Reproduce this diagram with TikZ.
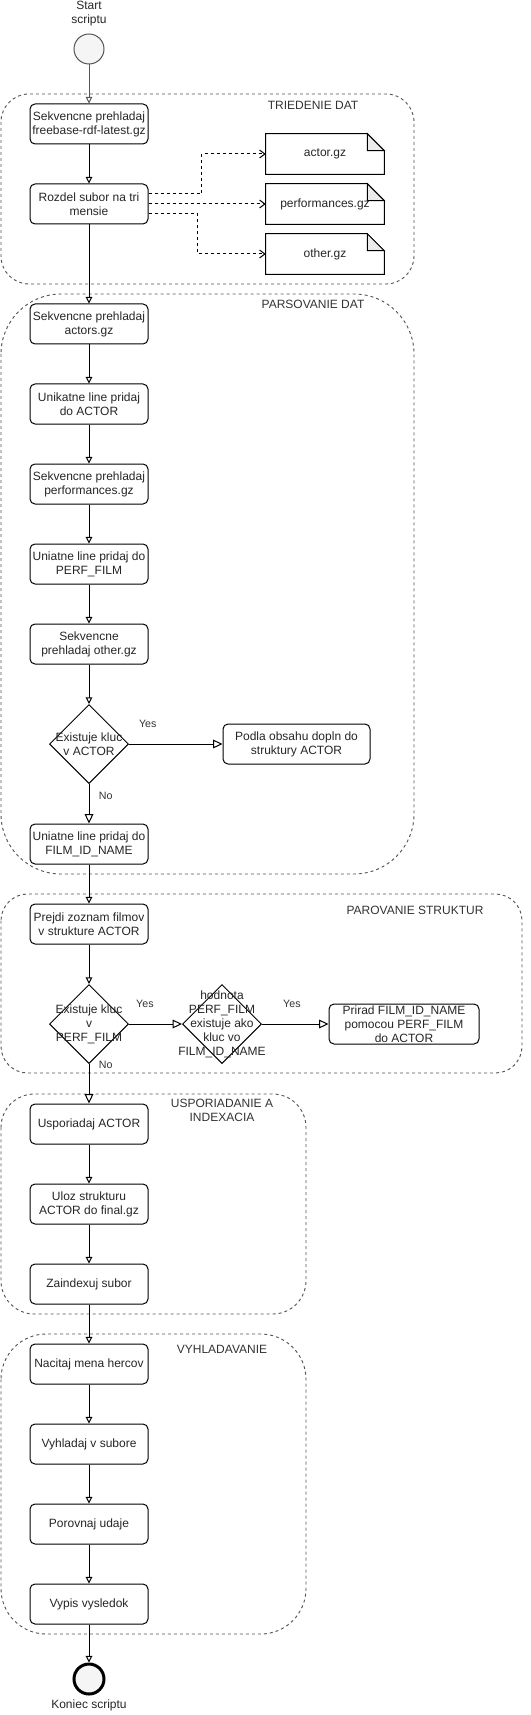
\documentclass[tikz,border=0pt]{standalone}
\usepackage{fontspec}
\setmainfont{Liberation Sans}
\usepackage{tikz}
\usetikzlibrary{shapes.geometric,arrows.meta,calc,positioning,backgrounds}
\definecolor{sedy}{HTML}{555555}
\definecolor{svetly}{HTML}{F5F5F5}
\definecolor{ohyb}{HTML}{EBEBEB}
\tikzset{
  txt/.style={font=\fontsize{9}{10.5}\selectfont,align=center,text=black!85},
  krok/.style={txt,rectangle,rounded corners=3.75pt,draw,fill=white,line width=0.75pt,minimum width=88.5pt,minimum height=30pt,inner sep=1pt},
  subor/.style={txt,rectangle,minimum width=88.5pt,minimum height=30pt,inner sep=1pt},
  rozhod/.style={diamond,draw,fill=white,line width=0.75pt,minimum width=59.25pt,minimum height=59.25pt,inner sep=0pt},
  skupina/.style={draw=sedy,dash pattern=on 2.25pt off 2.25pt,line width=0.7pt},
  nazov/.style={font=\fontsize{9}{10.5}\selectfont,align=center,text=black!80},
  popis/.style={font=\fontsize{8}{9.5}\selectfont,text=black!80,inner sep=1pt},
  sipka/.style={-{Triangle[open,length=5pt,width=5pt]},line width=0.75pt},
  sipkav/.style={-{Triangle[open,length=7pt,width=6.5pt]},line width=0.75pt},
  tok/.style={-{Straight Barb[length=4pt,width=6pt]},dash pattern=on 2.25pt off 2.25pt,line width=0.75pt}
}
\begin{document}
\begin{tikzpicture}[x=0.75pt,y=-0.75pt]
\useasboundingbox (0,0) rectangle (531,1715);
% skupiny
\draw[skupina,rounded corners=21pt] (1,94) rectangle (414,284);
\node[nazov] (tried) at (313,105) {TRIEDENIE DAT};
\draw[skupina,rounded corners=45pt] (1,294) rectangle (414,874);
\node[nazov] (pars) at (313,304) {PARSOVANIE DAT};
\draw[skupina,rounded corners=20pt] (1,894) rectangle (522,1073);
\node[nazov] (parov) at (415,910) {PAROVANIE STRUKTUR};
\draw[skupina,rounded corners=25pt] (1,1094) rectangle (306,1314);
\node[nazov] (uspor) at (222,1110) {USPORIADANIE A\\INDEXACIA};
\draw[skupina,rounded corners=34pt] (1,1334) rectangle (306,1634);
\node[nazov] (vyhl) at (222,1349) {VYHLADAVANIE};

% start
\node[circle,draw=sedy,fill=svetly,line width=0.75pt,minimum size=22.5pt,inner sep=0pt,
  label={[txt,label distance=2pt]above:Start\\scriptu}] (start) at (89,49) {};

% triedenie dat
\node[krok] (b1) at (89,124) {Sekvencne prehladaj\\freebase-rdf-latest.gz};
\node[krok] (b2) at (89,204) {Rozdel subor na tri\\mensie};
\node[subor] (actor) at (325,154) {actor.gz};
\node[subor] (perf) at (325,204) {performances.gz};
\node[subor] (other) at (325,254) {other.gz};
\begin{scope}[on background layer]
\foreach \d in {actor,perf,other}{
  \draw[line width=0.75pt,fill=white] (\d.north west) -- ($(\d.north east)+(-17,0)$)
    -- ($(\d.north east)+(0,17)$) -- (\d.south east) -- (\d.south west) -- cycle;
  \draw[line width=0.75pt,fill=ohyb] ($(\d.north east)+(-17,0)$) -- ($(\d.north east)+(-17,17)$)
    -- ($(\d.north east)+(0,17)$) -- cycle;
}
\end{scope}

% parsovanie dat
\node[krok] (b3) at (89,324) {Sekvencne prehladaj\\actors.gz};
\node[krok] (b4) at (89,404) {Unikatne line pridaj\\do ACTOR};
\node[krok] (b5) at (89,484) {Sekvencne prehladaj\\performances.gz};
\node[krok] (b6) at (89,564) {Uniatne line pridaj do\\PERF\_FILM};
\node[krok] (b7) at (89,644) {Sekvencne\\prehladaj other.gz};
\node[rozhod,label={[txt]center:Existuje kluc\\v ACTOR}] (d1) at (89,744) {};
\node[krok,minimum width=110.25pt] (podla) at (296.5,744) {Podla obsahu dopln do\\struktury ACTOR};
\node[krok] (b8) at (89,844) {Uniatne line pridaj do\\FILM\_ID\_NAME};

% parovanie struktur
\node[krok] (b9) at (89,924) {Prejdi zoznam filmov\\v strukture ACTOR};
\node[rozhod,label={[txt]center:Existuje kluc\\v\\PERF\_FILM}] (d2) at (89,1024) {};
\node[rozhod,label={[txt]center:hodnota\\PERF\_FILM\\existuje ako\\kluc vo\\FILM\_ID\_NAME}] (d3) at (222,1024) {};
\node[krok,minimum width=112.5pt] (prirad) at (404,1024) {Prirad FILM\_ID\_NAME\\pomocou PERF\_FILM\\do ACTOR};

% usporiadanie a indexacia
\node[krok] (b10) at (89,1124) {Usporiadaj ACTOR};
\node[krok] (b11) at (89,1204) {Uloz strukturu\\ACTOR do final.gz};
\node[krok] (b12) at (89,1284) {Zaindexuj subor};

% vyhladavanie
\node[krok] (b13) at (89,1364) {Nacitaj mena hercov};
\node[krok] (b14) at (89,1444) {Vyhladaj v subore};
\node[krok] (b15) at (89,1524) {Porovnaj udaje};
\node[krok] (b16) at (89,1604) {Vypis vysledok};

% koniec
\node[circle,draw,fill=svetly,line width=2.25pt,minimum size=22.5pt,inner sep=0pt,
  label={[txt]below:Koniec scriptu}] (koniec) at (89,1679) {};

% spojenia
\draw[sipka,draw=sedy] (start) -- (b1);
\draw[sipka] (b1) -- (b2);
\draw[tok] ($(b2.east)+(0,-10)$) -- ++(53,0) |- (actor);
\draw[tok] (b2) -- (perf);
\draw[tok] ($(b2.east)+(0,10)$) -- ++(49,0) |- (other);
\draw[sipka] (b2) -- (b3);
\draw[sipka] (b3) -- (b4);
\draw[sipka] (b4) -- (b5);
\draw[sipka] (b5) -- (b6);
\draw[sipka] (b6) -- (b7);
\draw[sipka] (b7) -- (d1);
\draw[sipkav] (d1) -- node[popis,pos=0.2,above=11pt] {Yes} (podla);
\draw[sipkav] (d1) -- node[popis,pos=0.3,right=6pt] {No} (b8);
\draw[sipka] (b8) -- (b9);
\draw[sipka] (b9) -- (d2);
\draw[sipkav] (d2) -- node[popis,pos=0.3,above=11pt] {Yes} (d3);
\draw[sipkav] (d3) -- node[popis,pos=0.45,above=11pt] {Yes} (prirad);
\draw[sipkav] (d2) -- node[popis,pos=0.02,right=6pt] {No} (b10);
\draw[sipka] (b10) -- (b11);
\draw[sipka] (b11) -- (b12);
\draw[sipka] (b12) -- (b13);
\draw[sipka] (b13) -- (b14);
\draw[sipka] (b14) -- (b15);
\draw[sipka] (b15) -- (b16);
\draw[sipka] (b16) -- (koniec);
\end{tikzpicture}
\end{document}
